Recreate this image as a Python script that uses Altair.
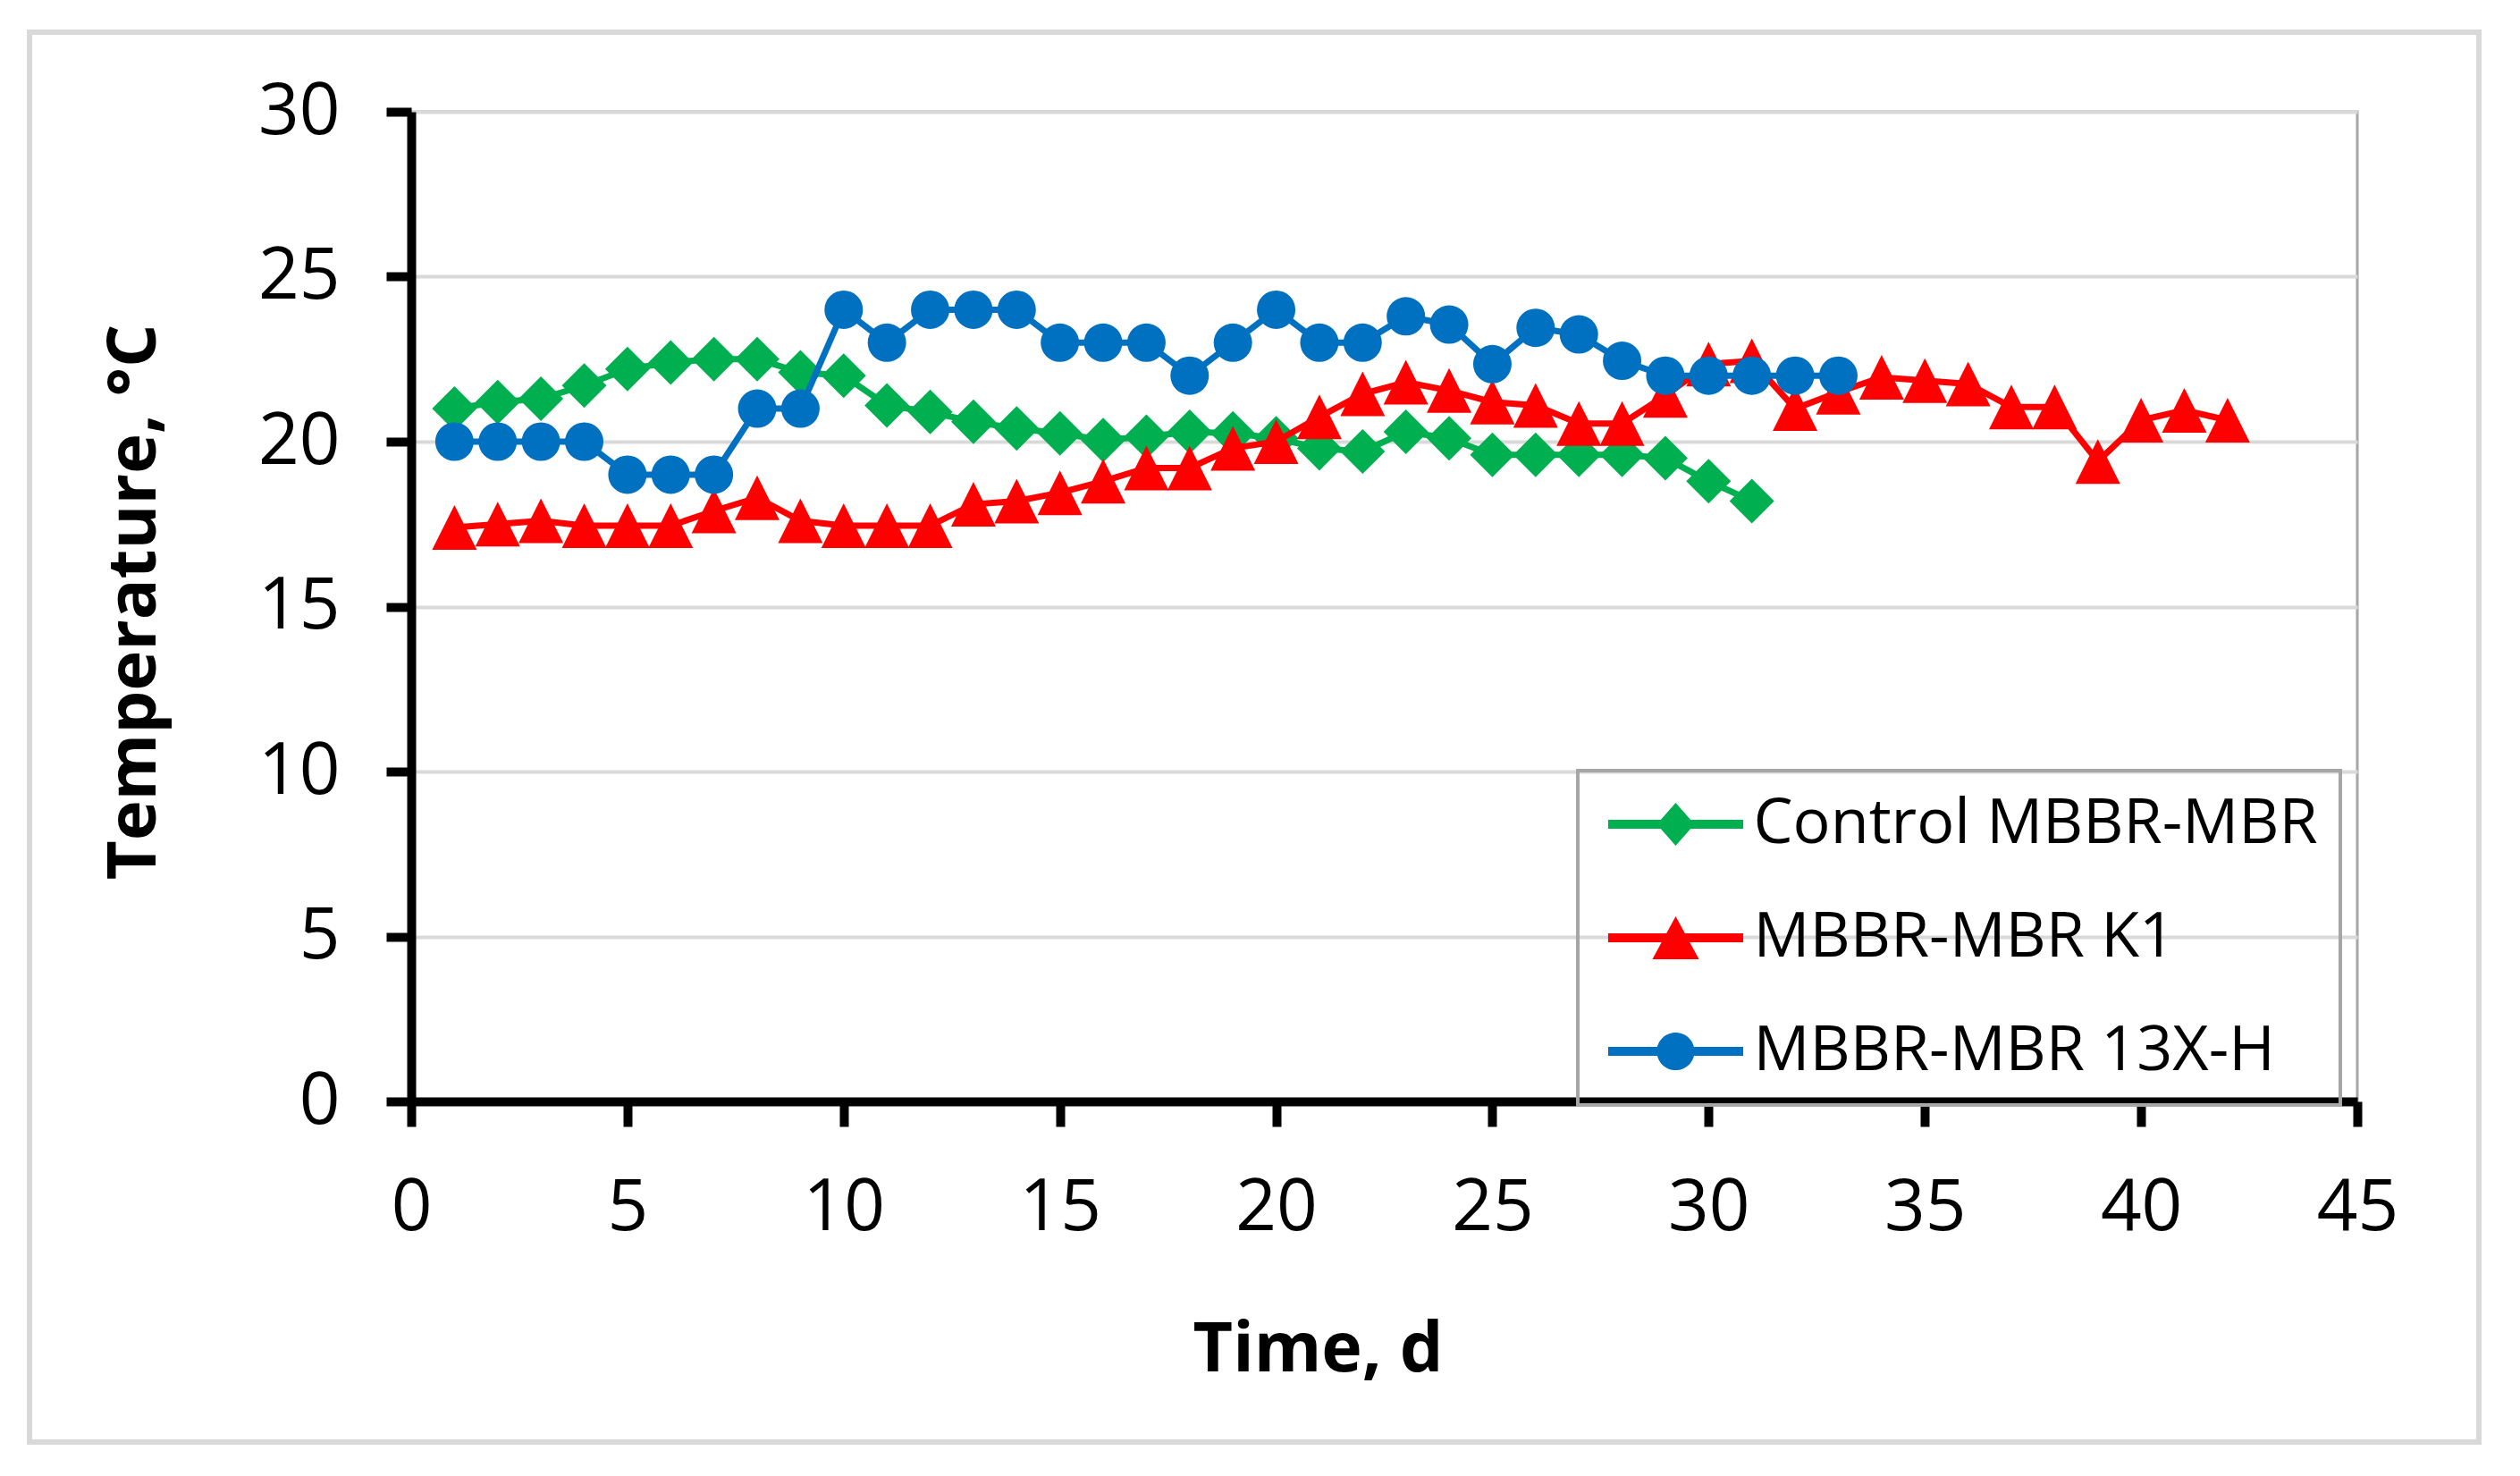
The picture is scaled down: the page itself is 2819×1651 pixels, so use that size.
import altair as alt
import pandas as pd

# ---------------- data ----------------
series_names = ["Control MBBR-MBR", "MBBR-MBR K1", "MBBR-MBR 13X-H"]
series_colors = ["#00B050", "#FF0000", "#0070C0"]

control_days = list(range(1, 32))
control_temp = [21.0, 21.2, 21.3, 21.7, 22.2, 22.4, 22.5, 22.5, 22.1, 22.0,
                21.1, 20.9, 20.6, 20.4, 20.25, 20.05, 20.15, 20.3, 20.25, 20.1,
                19.8, 19.7, 20.3, 20.1, 19.6, 19.6, 19.6, 19.6, 19.5, 18.8, 18.2]

k1_days = list(range(1, 43))
k1_temp = [17.4, 17.5, 17.6, 17.45, 17.45, 17.45, 17.9, 18.3, 17.6, 17.45,
           17.45, 17.45, 18.1, 18.2, 18.45, 18.8, 19.2, 19.2, 19.8, 20.0,
           20.75, 21.45, 21.8, 21.55, 21.2, 21.1, 20.55, 20.55, 21.4, 22.35,
           22.45, 21.0, 21.5, 21.95, 21.85, 21.75, 21.05, 21.05, 19.4, 20.65,
           20.95, 20.65]

h13x_days = list(range(1, 34))
h13x_temp = [20.0, 20.0, 20.0, 20.0, 19.0, 19.0, 19.0, 21.0, 21.0, 24.0,
             23.0, 24.0, 24.0, 24.0, 23.0, 23.0, 23.0, 22.0, 23.0, 24.0,
             23.0, 23.0, 23.8, 23.55, 22.35, 23.45, 23.25, 22.45, 22.0, 22.0,
             22.0, 22.0, 22.0]

x_ticks = [0, 5, 10, 15, 20, 25, 30, 35, 40, 45]
y_ticks = [0, 5, 10, 15, 20, 25, 30]

# ---------------- table ----------------
frames = []
for name, days, temps in [(series_names[0], control_days, control_temp),
                          (series_names[1], k1_days, k1_temp),
                          (series_names[2], h13x_days, h13x_temp)]:
    frames.append(pd.DataFrame({"day": days, "temp": temps, "series": name}))
df = pd.concat(frames, ignore_index=True)

# marker shapes in the plot
point_shapes = ["diamond", "M0,-1L1,1L-1,1Z", "circle"]
point_sizes = [2500, 2500, 1850]

# legend symbols: line + marker combined paths (units of sqrt(size)/2)
legend_paths = [
    "M-2.29,-0.15H-0.5V0.15H-2.29Z M0.5,-0.15H2.29V0.15H0.5Z M0,-0.73L0.64,0L0,0.73L-0.64,0Z",
    "M-2.29,-0.15H-0.3V0.15H-2.29Z M0.3,-0.15H2.29V0.15H0.3Z M0,-0.73L0.79,0.73L-0.79,0.73Z",
    "M-2.29,-0.15H-0.6V0.15H-2.29Z M0.6,-0.15H2.29V0.15H0.6Z M0.64,0A0.64,0.64,0,1,1,-0.64,0A0.64,0.64,0,1,1,0.64,0Z",
]
legend_symbol_size = 4356

x_enc = alt.X(
    "day:Q",
    scale=alt.Scale(domain=[0, 45], nice=False, zero=False),
    axis=alt.Axis(values=x_ticks, title="Time, d", grid=False, labelFlush=False,
                  titleX=1014, titleY=301, titleBaseline="alphabetic",
                  titleAlign="center", titleFontSize=77),
)
y_enc = alt.Y(
    "temp:Q",
    scale=alt.Scale(domain=[0, 30], nice=False),
    axis=alt.Axis(values=y_ticks, title="Temperature, °C", grid=True, labelFlush=False,
                  titleX=-287, titleY=548, titleAngle=270,
                  titleBaseline="alphabetic", titleAlign="center",
                  titleFontSize=76),
)
color_scale = alt.Scale(domain=series_names, range=series_colors)

legend_spec = alt.Legend(
    title=None, orient="none", legendX=1305, legendY=737, direction="vertical",
    labelFont="Open Sans", labelFontSize=70, labelColor="black", labelLimit=2000,
    labelOffset=52, symbolOffset=49.5, padding=25, rowPadding=57,
    strokeColor="#A6A6A6",
    symbolSize=legend_symbol_size, symbolStrokeWidth=0, symbolOpacity=1,
)
# legend-only layer (no visible marks; it only carries the legend)
legend_layer = alt.Chart(df).transform_filter("false").mark_point(
    filled=True, opacity=1, size=legend_symbol_size, strokeWidth=0
).encode(
    x=x_enc, y=y_enc,
    color=alt.Color("series:N", scale=color_scale, legend=legend_spec),
    shape=alt.Shape("series:N", scale=alt.Scale(domain=series_names, range=legend_paths),
                    legend=legend_spec),
)

layers = [legend_layer]

# outer chart-area frame (decoration)
frame = alt.Chart(alt.Data(values=[{"a": 1}])).mark_rect(
    fill="transparent", stroke="#D9D9D9", strokeWidth=6
).encode(
    x=alt.value(-427), x2=alt.value(2313), y=alt.value(-89), y2=alt.value(1488)
)
layers.append(frame)

for name, col, shp, sz in zip(series_names, series_colors, point_shapes, point_sizes):
    base = alt.Chart(df).transform_filter(alt.datum.series == name)
    line = base.mark_line(strokeWidth=7, color=col).encode(x=x_enc, y=y_enc)
    pts = base.mark_point(filled=True, opacity=1, shape=shp, size=sz,
                          strokeWidth=0, color=col).encode(x=x_enc, y=y_enc)
    layers += [line, pts]

chart = alt.layer(*layers).properties(
    width=2177, height=1107,
    padding={"left": 452, "top": 117, "right": 170, "bottom": 400},
    autosize=alt.AutoSizeParams(type="none"),
    background="white",
).configure_view(
    stroke="#A6A6A6", strokeWidth=3
).configure_axis(
    labelFont="Open Sans", labelFontSize=80, labelColor="black",
    titleFont="Open Sans", titleFontWeight="bold", titleColor="black",
    domainColor="black", domainWidth=10, tickColor="black", tickWidth=10,
    tickSize=28, labelPadding=52, gridColor="#D9D9D9", gridWidth=4,
).configure_legend(
    strokeWidth=4
)

chart.save("out.html", embed_options={"renderer": "svg", "actions": False})
